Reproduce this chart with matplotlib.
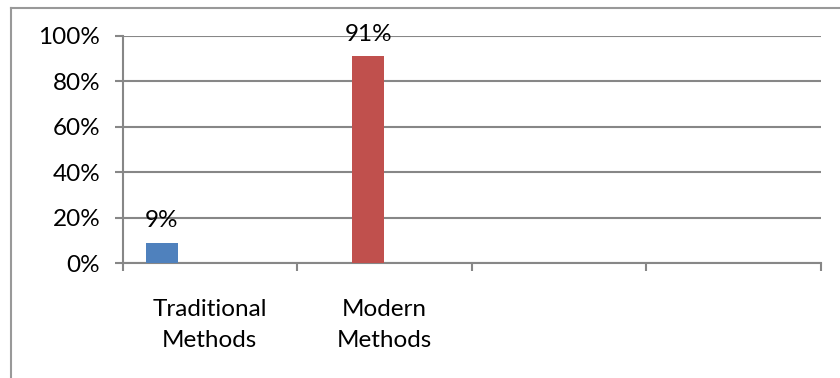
import matplotlib.pyplot as plt
from matplotlib.lines import Line2D

# Category slots on the x axis (two empty trailing slots)
categories = ["Traditional\nMethods", "Modern\nMethods", "", ""]
# Each series holds a value for one category only
series_names = ["Traditional Methods", "Modern Methods"]
series_category = [0, 1]
series_values = [9, 91]
series_colors = ["#4F81BD", "#C0504D"]
y_ticks = [0, 20, 40, 60, 80, 100]

N_SERIES = 4          # cluster layout: four series slots per category
BAR_W = 0.183
GRID = "#878787"
FS = 17.5

plt.rcParams["font.family"] = ["Lato", "DejaVu Sans"]

fig = plt.figure(figsize=(8.4, 3.78), dpi=100)
ax = fig.add_axes([122.5 / 840, 1 - 263 / 378, (821 - 122.5) / 840, (263 - 36) / 378])

for i, (name, cat, val, col) in enumerate(zip(series_names, series_category,
                                              series_values, series_colors)):
    x = cat + (i - (N_SERIES - 1) / 2) * BAR_W
    bars = ax.bar(x, val, width=BAR_W, color=col, label=name, zorder=3)
    ax.bar_label(bars, labels=[f"{val}%"], padding=8, fontsize=FS, color="black")

ax.set_xlim(-0.5, len(categories) - 0.5)
ax.set_ylim(0, 100)
ax.set_yticks(y_ticks)
ax.set_yticklabels([f"{t}%" for t in y_ticks], fontsize=FS)
ax.yaxis.grid(True, color=GRID, linewidth=1.5, zorder=0)

# category boundaries carry the tick marks, labels sit at slot centres
ax.set_xticks([i - 0.5 for i in range(len(categories) + 1)])
ax.set_xticklabels([])
ax.set_xticks(range(len(categories)), minor=True)
ax.set_xticklabels(categories, minor=True, fontsize=FS, linespacing=1.6)
ax.tick_params(axis="x", which="minor", length=0, pad=26)
ax.tick_params(axis="x", which="major", length=6, width=1.5, color=GRID)
ax.tick_params(axis="y", length=6, width=1.5, color=GRID, pad=10)

for side in ["top", "right"]:
    ax.spines[side].set_visible(False)
for side in ["left", "bottom"]:
    ax.spines[side].set_color(GRID)
    ax.spines[side].set_linewidth(1.5)

# chart area frame (only left and top edges fall inside the image)
fig.add_artist(Line2D([10.5 / 840, 10.5 / 840], [0, 1 - 8 / 378],
                      transform=fig.transFigure, color="#999999", linewidth=1.5))
fig.add_artist(Line2D([10.5 / 840, 1], [1 - 8 / 378, 1 - 8 / 378],
                      transform=fig.transFigure, color="#999999", linewidth=1.5))

fig.savefig("out.png", dpi=100)
